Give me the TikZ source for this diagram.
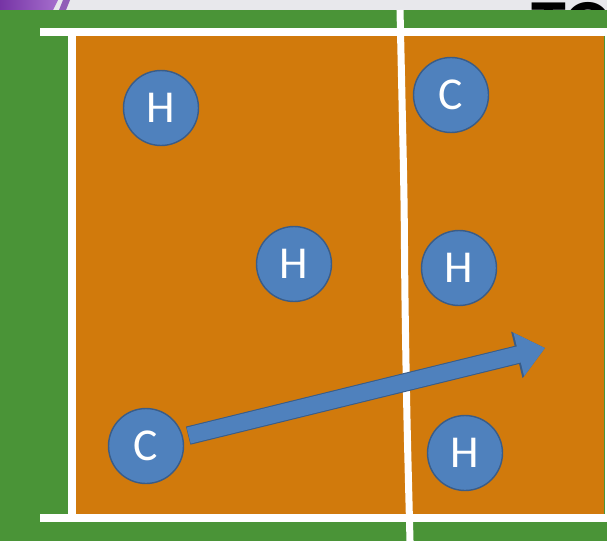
\documentclass[tikz,border=0pt]{standalone}
\usepackage{fontspec}
\setmainfont{Carlito}
\usetikzlibrary{arrows.meta}

\definecolor{courtorange}{RGB}{209,122,12}
\definecolor{fieldgreen}{RGB}{74,148,55}
\definecolor{playerblue}{RGB}{79,129,189}
\definecolor{playeredge}{RGB}{58,92,135}
\definecolor{topgray}{RGB}{232,232,236}
\definecolor{headpurple}{RGB}{118,52,165}
\definecolor{headlilac}{RGB}{165,110,205}

\begin{document}
\begin{tikzpicture}[x=0.02cm, y=-0.02cm,
    player/.style={circle, fill=playerblue, draw=playeredge, line width=0.8pt,
      minimum size=1.5cm, inner sep=0pt, text=white,
      font=\fontsize{26}{26}\selectfont},
    courtline/.style={white, line width=4pt}]
  \useasboundingbox (0,0) rectangle (607,541);
  % Strip above the field (cut-off slide header)
  \fill[topgray] (0,0) rectangle (607,10);
  \shade[left color=headpurple, right color=headlilac]
    (0,0) -- (58,0) -- (53,10) -- (0,10) -- cycle;
  \fill[headpurple!80] (63,0) -- (70,0) -- (66,10) -- (59,10) -- cycle;
  \begin{scope}
    \clip (430,0) rectangle (607,10);
    \node[anchor=north west, inner sep=0pt,
      font=\bfseries\fontsize{40}{40}\selectfont] at (531,2) {TOI};
  \end{scope}
  % Field and court
  \fill[fieldgreen] (0,10) rectangle (607,541);
  \fill[courtorange] (74,35) rectangle (604,515);
  \draw[courtline] (40,32) -- (607,32);
  \draw[courtline] (40,518) -- (607,518);
  \draw[courtline] (72,32) -- (72,518);
  \draw[white, line width=1.2pt] (606,32) -- (606,518);
  % Centre line, slightly wavy as in the hand-made slide
  \draw[courtline] plot[smooth] coordinates
    {(400,10) (402,100) (404,200) (405,300) (407,420) (410,541)};
  % Players
  \foreach \name/\px/\py/\lbl in {h1/161/108/H, c2/451/95/C, h2/294/264/H,
                                  h3/459/268/H, c1/146/446/C, h4/465/453/H} {
    \node[player] (\name) at (\px,\py) {\lbl};
  }
  % Attack run from the back-court C
  \coordinate (aim) at (545,348);
  \draw[playeredge, line width=10.6pt, shorten <=3pt,
    -{Triangle[length=0.58cm, width=0.92cm]}] (c1) -- (aim);
  \draw[playerblue, line width=9.4pt, shorten <=3.3pt,
    -{Triangle[length=0.54cm, width=0.86cm]}] (c1) -- (aim);
\end{tikzpicture}
\end{document}
